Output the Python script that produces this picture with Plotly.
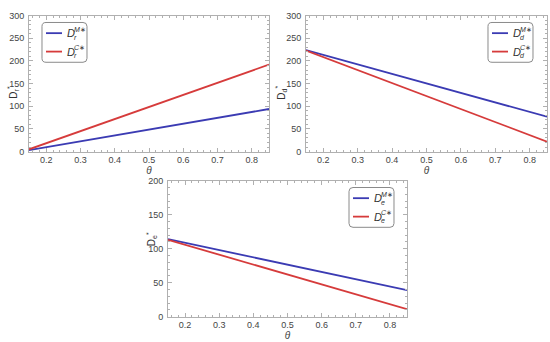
import plotly.graph_objects as go

W, H = 550, 342

theta = [0.15, 0.5, 0.85]
x_ticks = [0.2, 0.3, 0.4, 0.5, 0.6, 0.7, 0.8]

# Panel 1: D_r
dr_M = [3, 48, 94]
dr_C = [5, 98, 192]
# Panel 2: D_d
dd_M = [224, 150, 77]
dd_C = [223, 122, 22]
# Panel 3: D_e
de_M = [114, 76, 39]
de_C = [113, 62, 11]

BLUE = "#3b3bb3"
RED = "#d63b3b"
FRAME = "#b0b0b0"
FONT = "Liberation Sans"

def px2paper(px, py):
    return px / W, 1 - py / H

# panel pixel boxes: (x0, x1, y_top, y_bottom)
panels = [
    dict(box=(29, 269, 11, 151), M=dr_M, C=dr_C, sub="r", ymax=300, ydt=50,
         leg=(42, 18)),
    dict(box=(306, 547, 11, 151), M=dd_M, C=dd_C, sub="d", ymax=300, ydt=50,
         leg=(488, 18)),
    dict(box=(168, 407, 181, 321), M=de_M, C=de_C, sub="e", ymax=200, ydt=50,
         leg=(349, 188)),
]

fig = go.Figure()
shapes = []
annotations = []

for i, p in enumerate(panels):
    n = "" if i == 0 else str(i + 1)
    x0, x1, yt, yb = p["box"]
    xa, ya = "x" + n, "y" + n
    fig.add_trace(go.Scatter(x=theta, y=p["M"], mode="lines", xaxis=xa, yaxis=ya,
                             line=dict(color=BLUE, width=1.8), showlegend=False))
    fig.add_trace(go.Scatter(x=theta, y=p["C"], mode="lines", xaxis=xa, yaxis=ya,
                             line=dict(color=RED, width=1.8), showlegend=False))
    common = dict(showline=True, linecolor=FRAME, linewidth=1, mirror="ticks",
                  ticks="inside", ticklen=4, tickcolor=FRAME, showgrid=False,
                  zeroline=False, tickfont=dict(family=FONT, size=9, color="#444"))
    fig.layout["xaxis" + n] = dict(
        domain=[x0 / W, x1 / W], range=[0.15, 0.85], anchor=ya,
        tickvals=x_ticks, ticktext=[f"{v:.1f}" for v in x_ticks],
        minor=dict(ticks="inside", ticklen=2, dtick=0.02, tick0=0.0, tickcolor=FRAME),
        title=dict(text="<i>θ</i>", font=dict(family=FONT, size=10, color="#444"), standoff=1),
        **common)
    fig.layout["yaxis" + n] = dict(
        domain=[1 - yb / H, 1 - yt / H], range=[0, p["ymax"]], anchor=xa,
        dtick=p["ydt"], tick0=0, ticklabelstandoff=2,
        minor=dict(ticks="inside", ticklen=2, dtick=10, tickcolor=FRAME),
        **common)

    # y-axis label: D with stacked * and subscript, rotated
    lx, ly = px2paper(x0 - 25, (yt + yb) / 2)
    annotations.append(dict(x=lx, y=ly, xref="paper", yref="paper", showarrow=False,
                            text="D<sub>" + p["sub"] + "</sub><sup>*</sup>", textangle=-90,
                            font=dict(family=FONT, size=10, color="#333")))

    # manual legend box (rounded)
    bx, by = p["leg"]
    bw, bh, r = 45, 41, 4
    def P(a, b):
        u, v = px2paper(a, b)
        return f"{u:.5f},{v:.5f}"
    path = (f"M {P(bx + r, by)} L {P(bx + bw - r, by)} Q {P(bx + bw, by)} {P(bx + bw, by + r)} "
            f"L {P(bx + bw, by + bh - r)} Q {P(bx + bw, by + bh)} {P(bx + bw - r, by + bh)} "
            f"L {P(bx + r, by + bh)} Q {P(bx, by + bh)} {P(bx, by + bh - r)} "
            f"L {P(bx, by + r)} Q {P(bx, by)} {P(bx + r, by)} Z")
    shapes.append(dict(type="path", path=path, xref="paper", yref="paper",
                       line=dict(color="#8a8a8a", width=1), fillcolor="white"))
    for k, (col, sup) in enumerate([(BLUE, "M"), (RED, "C")]):
        ry = by + 11 + k * 19
        a0 = px2paper(bx + 4, ry)
        a1 = px2paper(bx + 20, ry)
        shapes.append(dict(type="line", xref="paper", yref="paper",
                           x0=a0[0], y0=a0[1], x1=a1[0], y1=a1[1],
                           line=dict(color=col, width=1.8)))
        tx, ty = px2paper(bx + 23, ry)
        annotations.append(dict(x=tx, y=ty, xref="paper", yref="paper", showarrow=False,
                                xanchor="left", yanchor="middle", text="<i>D</i>",
                                font=dict(family=FONT, size=11, color="#333")))
        sx, sy = px2paper(bx + 30, ry - 4)
        annotations.append(dict(x=sx, y=sy, xref="paper", yref="paper", showarrow=False,
                                xanchor="left", yanchor="middle", text="<i>" + sup + "</i>∗",
                                font=dict(family=FONT, size=7, color="#333")))
        ux, uy = px2paper(bx + 30, ry + 4)
        annotations.append(dict(x=ux, y=uy, xref="paper", yref="paper", showarrow=False,
                                xanchor="left", yanchor="middle", text="<i>" + p["sub"] + "</i>",
                                font=dict(family=FONT, size=7, color="#333")))

fig.update_layout(width=W, height=H, margin=dict(l=0, r=0, t=0, b=0),
                  paper_bgcolor="white", plot_bgcolor="white",
                  shapes=shapes, annotations=annotations, showlegend=False)
fig.write_html("out.html", config={"displayModeBar": False},
               post_script="document.body.style.margin='0';document.body.style.overflow='hidden';")
